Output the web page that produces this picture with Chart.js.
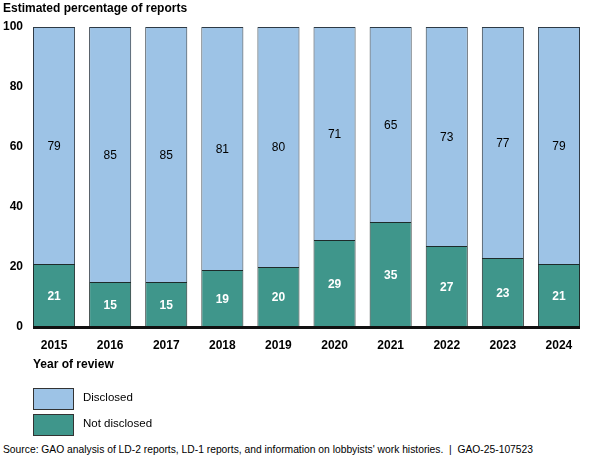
<!DOCTYPE html>
<html>
<head>
<meta charset="utf-8">
<script src="https://cdn.jsdelivr.net/npm/chart.js@4.4.1/dist/chart.umd.min.js"></script>
<style>
  body { margin: 0; background: #fff; font-family: "Liberation Sans", Arial, sans-serif; }
  #wrap { position: relative; width: 600px; height: 462px; }
  #chartBox { position: absolute; left: 0; top: 0; width: 600px; height: 362px; }
  .txt { position: absolute; color: #000; white-space: nowrap; }
  .title { left: 3px; top: 1px; font-size: 12px; font-weight: bold; }
  .xtitle { left: 33px; top: 357px; font-size: 12px; font-weight: bold; }
  .swatch { position: absolute; left: 33px; width: 39px; height: 20px; border: 1px solid #333; }
  .leg { left: 83px; font-size: 11.5px; }
  .source { left: 3px; top: 444px; font-size: 10.3px; }
</style>
</head>
<body>
<div id="wrap">
  <div id="chartBox"><canvas id="gaoChart"></canvas></div>
  <div class="txt title">Estimated percentage of reports</div>
  <div class="txt xtitle">Year of review</div>
  <div class="swatch" style="top:388px; background:#9dc3e6;"></div>
  <div class="txt leg" style="top:391px;">Disclosed</div>
  <div class="swatch" style="top:414px; background:#3f968b;"></div>
  <div class="txt leg" style="top:417px;">Not disclosed</div>
  <div class="txt source">Source: GAO analysis of LD-2 reports, LD-1 reports, and information on lobbyists' work histories.&nbsp; |&nbsp; GAO-25-107523</div>
</div>
<script>
const years = ["2015", "2016", "2017", "2018", "2019", "2020", "2021", "2022", "2023", "2024"];
const notDisclosed = [21, 15, 15, 19, 20, 29, 35, 27, 23, 21];
const disclosed = [79, 85, 85, 81, 80, 71, 65, 73, 77, 79];
const yTicks = [0, 20, 40, 60, 80, 100];

// writes the value in the middle of each bar segment
const segmentLabels = {
  id: "segmentLabels",
  afterDatasetsDraw(chart) {
    const ctx = chart.ctx;
    ctx.save();
    ctx.textAlign = "center";
    ctx.textBaseline = "middle";
    chart.data.datasets.forEach((ds, i) => {
      const meta = chart.getDatasetMeta(i);
      meta.data.forEach((bar, j) => {
        const mid = (bar.y + bar.base) / 2;
        if (i === 0) {
          ctx.fillStyle = "#ffffff";
          ctx.font = "bold 12px 'Liberation Sans', Arial, sans-serif";
        } else {
          ctx.fillStyle = "#000000";
          ctx.font = "12px 'Liberation Sans', Arial, sans-serif";
        }
        ctx.fillText(ds.data[j], bar.x, mid + 1);
      });
    });
    ctx.restore();
  }
};

// heavy baseline under the bars
const baseLine = {
  id: "baseLine",
  afterDatasetsDraw(chart) {
    const bars = chart.getDatasetMeta(0).data;
    if (!bars.length) return;
    const first = bars[0];
    const last = bars[bars.length - 1];
    const y0 = chart.scales.y.getPixelForValue(0);
    const ctx = chart.ctx;
    ctx.save();
    ctx.fillStyle = "#111111";
    ctx.fillRect(first.x - first.width / 2, y0 - 1, last.x + last.width / 2 - (first.x - first.width / 2), 3);
    ctx.restore();
  }
};

const ctx = document.getElementById("gaoChart");

new Chart(ctx, {
  type: "bar",
  data: {
    labels: years,
    datasets: [
      {
        label: "Not disclosed",
        data: notDisclosed,
        backgroundColor: "#3f968b",
        borderColor: "#1e2b2a",
        borderWidth: 1,
        borderSkipped: false,
        barPercentage: 0.75,
        categoryPercentage: 1,
      },
      {
        label: "Disclosed",
        data: disclosed,
        backgroundColor: "#9dc3e6",
        borderColor: "#2e3a45",
        borderWidth: 1,
        borderSkipped: "bottom",
        barPercentage: 0.75,
        categoryPercentage: 1,
      },
    ],
  },
  options: {
    responsive: true,
    maintainAspectRatio: false,
    animation: false,
    layout: {
      padding: { top: 27, right: 13, left: 0, bottom: 0 },
    },
    plugins: {
      legend: { display: false },
      tooltip: { enabled: false },
    },
    scales: {
      x: {
        stacked: true,
        grid: { display: false, drawTicks: false },
        border: { display: false },
        ticks: {
          color: "#000",
          padding: 11,
          font: { family: "'Liberation Sans', Arial, sans-serif", size: 12, weight: "bold" },
        },
        afterFit(scale) {
          scale.height = 35;
        },
      },
      y: {
        stacked: true,
        min: 0,
        max: 100,
        afterBuildTicks(scale) {
          scale.ticks = yTicks.map((v) => ({ value: v }));
        },
        grid: { display: false, drawTicks: false },
        border: { display: false },
        ticks: {
          color: "#000",
          padding: 3,
          font: { family: "'Liberation Sans', Arial, sans-serif", size: 12, weight: "bold" },
        },
        afterFit(scale) {
          scale.width = 26;
        },
      },
    },
  },
  plugins: [segmentLabels, baseLine],
});
</script>
</body>
</html>
